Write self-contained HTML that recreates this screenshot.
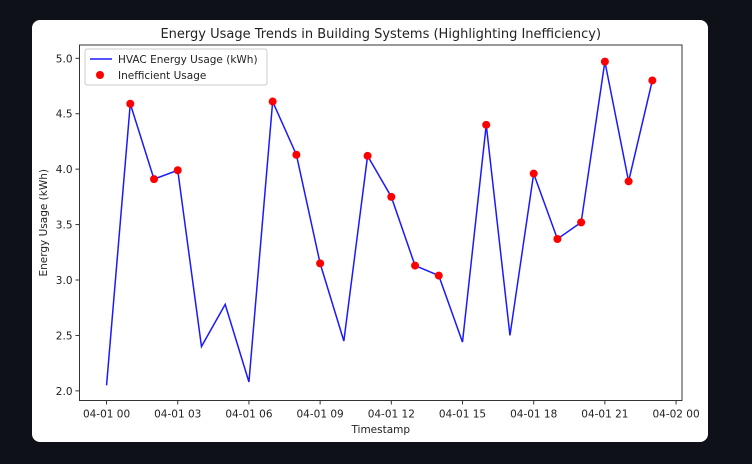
<!DOCTYPE html>
<html><head><meta charset="utf-8"><style>
body{margin:0;background:#0e1117;width:752px;height:464px;overflow:hidden;font-family:"Liberation Sans","DejaVu Sans",sans-serif}
#card{position:absolute;left:32px;top:20px;width:676px;height:422px;background:#fff;border-radius:8px}
svg{position:absolute;left:0;top:0}
text{font-family:"DejaVu Sans","Liberation Sans",sans-serif;fill:#222}
</style></head><body>
<div id="card"></div>
<svg id="chart" width="752" height="464"></svg>
<script>
const hours=[0,1,2,3,4,5,6,7,8,9,10,11,12,13,14,15,16,17,18,19,20,21,22,23];
const usage=[2.05,4.59,3.91,3.99,2.40,2.78,2.08,4.61,4.13,3.15,2.45,4.12,3.75,3.13,3.04,2.44,4.40,2.50,3.96,3.37,3.52,4.97,3.89,4.80];
const threshold=3.0;
const yTicks=[2.0,2.5,3.0,3.5,4.0,4.5,5.0];
const xTickHours=[0,3,6,9,12,15,18,21,24];
const xTickLabels=["04-01 00","04-01 03","04-01 06","04-01 09","04-01 12","04-01 15","04-01 18","04-01 21","04-02 00"];
const L=79.5,R=682,T=45,B=400.5;
const xMin=-1.14,xMax=24.25,yMin=1.913,yMax=5.12;
const X=h=>L+(h-xMin)/(xMax-xMin)*(R-L);
const Y=v=>B-(v-yMin)/(yMax-yMin)*(B-T);
const svg=document.getElementById('chart');
const NS='http://www.w3.org/2000/svg';
function mk(tag,attrs,parent){const e=document.createElementNS(NS,tag);for(const k in attrs)e.setAttribute(k,attrs[k]);(parent||svg).appendChild(e);return e;}
let t=mk('text',{x:(L+R)/2,y:38,'text-anchor':'middle','font-size':13});
t.textContent='Energy Usage Trends in Building Systems (Highlighting Inefficiency)';


yTicks.forEach(v=>{
 mk('line',{x1:L-4,x2:L,y1:Y(v),y2:Y(v),stroke:'#333','stroke-width':1});
 const tx=mk('text',{x:L-7,y:Y(v)+4,'text-anchor':'end','font-size':10.5});
 tx.textContent=v.toFixed(1);
 
 
});
xTickHours.forEach((h,i)=>{
 mk('line',{x1:X(h),x2:X(h),y1:B,y2:B+4,stroke:'#333','stroke-width':1});
 const tx=mk('text',{x:X(h),y:B+17,'text-anchor':'middle','font-size':10.5});
 tx.textContent=xTickLabels[i];
 
 
});
let xt=mk('text',{x:(L+R)/2,y:433,'text-anchor':'middle','font-size':10.5});
xt.textContent='Timestamp';


let yt=mk('text',{x:0,y:0,'text-anchor':'middle','font-size':10.5,transform:`translate(47,${(T+B)/2}) rotate(-90)`});
yt.textContent='Energy Usage (kWh)';


const line=mk('polyline',{points:hours.map((h,i)=>X(h)+','+Y(usage[i])).join(' '),fill:'none',stroke:'#1a1aff','stroke-width':1.5});


hours.forEach((h,i)=>{if(usage[i]>threshold){
 const c=mk('circle',{cx:X(h),cy:Y(usage[i]),r:4,fill:'#ff0000'});
 
 
}});
const frame=mk('rect',{x:L,y:T,width:R-L,height:B-T,fill:'none',stroke:'#333','stroke-width':1});


const lg=mk('g',{});


mk('rect',{x:85,y:49,width:182,height:36,fill:'#fff',stroke:'#ccc',rx:2},lg);
mk('line',{x1:90,x2:112,y1:59,y2:59,stroke:'#1a1aff','stroke-width':1.5},lg);
mk('circle',{cx:100,cy:75,r:4,fill:'#ff0000'},lg);
let l1=mk('text',{x:118,y:63,'font-size':10.5},lg);l1.textContent='HVAC Energy Usage (kWh)';


let l2=mk('text',{x:118,y:79,'font-size':10.5},lg);l2.textContent='Inefficient Usage';


</script>
</body></html>
